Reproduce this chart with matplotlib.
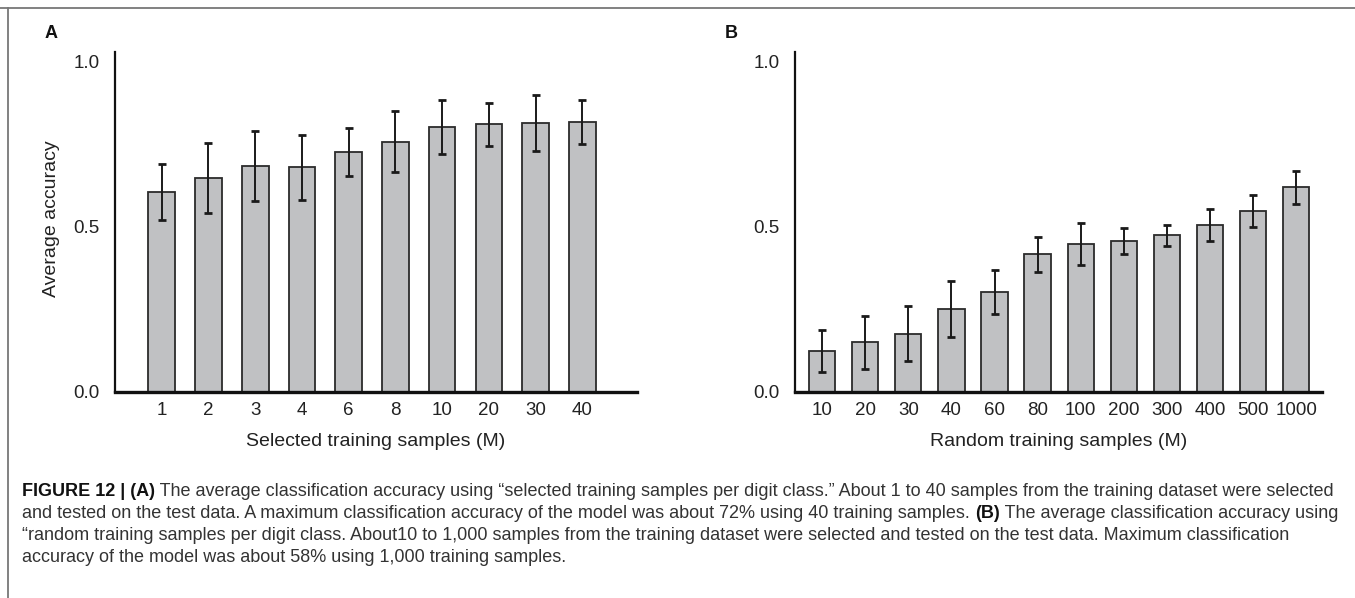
import matplotlib
matplotlib.use("Agg")
import matplotlib.pyplot as plt
from matplotlib.lines import Line2D

plt.rcParams['font.family'] = ['Liberation Sans', 'DejaVu Sans']

# panel A data
sel_labels = ['1', '2', '3', '4', '6', '8', '10', '20', '30', '40']
sel_mean = [0.606, 0.648, 0.685, 0.681, 0.727, 0.758, 0.803, 0.811, 0.816, 0.819]
sel_err = [0.085, 0.105, 0.105, 0.099, 0.074, 0.093, 0.081, 0.066, 0.085, 0.067]

# panel B data
rnd_labels = ['10', '20', '30', '40', '60', '80', '100', '200', '300', '400', '500', '1000']
rnd_mean = [0.124, 0.150, 0.177, 0.251, 0.303, 0.417, 0.449, 0.457, 0.475, 0.506, 0.549, 0.620]
rnd_err = [0.064, 0.079, 0.083, 0.084, 0.068, 0.053, 0.064, 0.040, 0.032, 0.048, 0.049, 0.049]

W, H = 1355, 598
fig = plt.figure(figsize=(W / 100, H / 100), dpi=100)

def fx(px):
    return px / W

def fy(py):
    return 1 - py / H

bar_color = '#c0c1c3'
edge_color = '#2b2b2b'

def panel(left, right, labels, means, errs, xlim, width, xlabel, letter, ylabel=None):
    ax = fig.add_axes([fx(left), fy(392), fx(right) - fx(left), fy(52) - fy(392)])
    x = range(len(labels))
    ax.bar(x, means, width=width, color=bar_color, edgecolor=edge_color, linewidth=1.3, zorder=2)
    ax.errorbar(x, means, yerr=errs, fmt='none', ecolor='#1a1a1a', elinewidth=1.4,
                capsize=3.2, capthick=2.0, zorder=3)
    ax.set_xlim(*xlim)
    ax.set_ylim(0, 1.03)
    ax.set_yticks([0.0, 0.5, 1.0])
    ax.set_yticklabels(['0.0', '0.5', '1.0'])
    ax.set_xticks(list(x))
    ax.set_xticklabels(labels)
    ax.tick_params(axis='both', length=0, labelsize=13.5, colors='#222222')
    ax.tick_params(axis='y', pad=11)
    ax.tick_params(axis='x', pad=7)
    for s in ['top', 'right']:
        ax.spines[s].set_visible(False)
    ax.spines['left'].set_linewidth(1.6)
    ax.spines['bottom'].set_linewidth(2.4)
    ax.spines['left'].set_color('#111111')
    ax.spines['bottom'].set_color('#111111')
    fig.text(fx((left + right) / 2), fy(442), xlabel, ha='center', va='center',
             fontsize=14, color='#222222')
    fig.text(fx(left - 70), fy(33), letter, ha='left', va='center',
             fontsize=13, fontweight='bold', color='#111111')
    if ylabel:
        fig.text(fx(52), fy(219), ylabel, ha='center', va='center', rotation=90,
                 fontsize=14, color='#222222')
    return ax

panel(115, 637, sel_labels, sel_mean, sel_err, (-1.0, 10.17), 0.57,
      'Selected training samples (M)', 'A', 'Average accuracy')
panel(795, 1322, rnd_labels, rnd_mean, rnd_err, (-0.63, 11.6), 0.61,
      'Random training samples (M)', 'B')

# frame lines
fig.add_artist(Line2D([0, 1], [fy(8), fy(8)], transform=fig.transFigure, color='#777777', lw=1.3))
fig.add_artist(Line2D([fx(8), fx(8)], [fy(8), 0], transform=fig.transFigure, color='#777777', lw=1.3))

# caption
caption = [
    [("FIGURE 12 | (A)", 'bold'),
     (" The average classification accuracy using \u201cselected training samples per digit class.\u201d "
      "About 1 to 40 samples from the training dataset were selected", 'normal')],
    [("and tested on the test data. A maximum classification accuracy of the model was about 72% "
      "using 40 training samples. ", 'normal'),
     ("(B)", 'bold'),
     (" The average classification accuracy using", 'normal')],
    [("\u201crandom training samples per digit class. About10 to 1,000 samples from the training dataset "
      "were selected and tested on the test data. Maximum classification", 'normal')],
    [("accuracy of the model was about 58% using 1,000 training samples.", 'normal')],
]
line_y = [491, 513, 536, 558]

renderer = fig.canvas.get_renderer()
cap_size = 13.0
for segs, y in zip(caption, line_y):
    xpos = 22
    for txt, weight in segs:
        col = '#111111' if weight == 'bold' else '#333333'
        t = fig.text(fx(xpos), fy(y), txt, ha='left', va='center', fontsize=cap_size,
                     fontweight=weight, color=col)
        bb = t.get_window_extent(renderer=renderer)
        xpos += bb.width

fig.savefig('out.png', dpi=100)
